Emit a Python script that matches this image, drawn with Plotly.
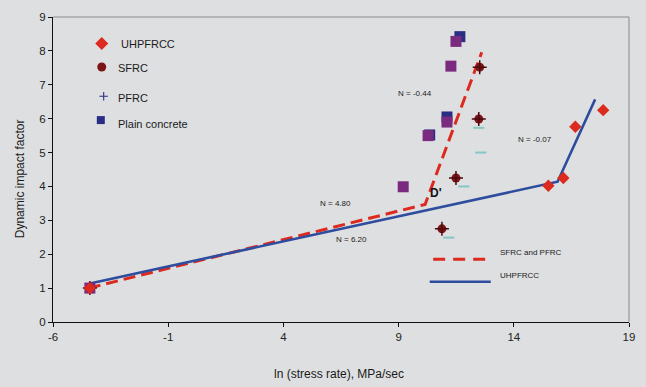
import plotly.graph_objects as go

# ---------------- data ----------------
uhp_x = [-4.4, 15.5, 16.15, 16.67, 17.88]
uhp_y = [1.0, 4.02, 4.25, 5.76, 6.25]

sfrc_x = [-4.4, 10.88, 11.49, 12.48, 12.52]
sfrc_y = [1.0, 2.75, 4.25, 5.99, 7.52]

pfrc_x = [11.18, 11.83, 12.57, 12.48]
pfrc_y = [2.49, 4.0, 5.0, 5.73]

plain_a_x = [11.66, 11.1, 10.35]
plain_a_y = [8.42, 6.05, 5.52]

plain_b_x = [-4.4, 9.2, 10.28, 11.1, 11.27, 11.49]
plain_b_y = [1.0, 3.99, 5.5, 5.9, 7.55, 8.28]

fit_sfrc_x = [-4.45, 10.15, 12.61]
fit_sfrc_y = [1.0, 3.47, 7.96]

fit_uhp_x = [-4.45, 15.9, 17.53]
fit_uhp_y = [1.13, 4.14, 6.57]

x_ticks = [-6, -1, 4, 9, 14, 19]
x_labels = ["-6", "-1", "4", "9", "14", "19"]
y_ticks = list(range(0, 10))

notes = [("N = -0.44", 9.72, 6.74), ("N = 4.80", 6.26, 3.5),
         ("N = 6.20", 6.95, 2.43), ("N = -0.07", 14.94, 5.38)]

RED = "#dc2a1e"
BLUE = "#2f4d9e"
SF = "#7d1518"
NAVY = "#2a2d84"
PURPLE = "#7b2b7f"
TEAL = "#86c6c4"
BG = "#dedfe1"
FONT = "Liberation Sans, Arial, sans-serif"

fig = go.Figure()

fig.add_trace(go.Scatter(x=fit_sfrc_x, y=fit_sfrc_y, mode="lines",
                         line=dict(color=RED, width=3, dash="12px,6px"), showlegend=False))
fig.add_trace(go.Scatter(x=fit_uhp_x, y=fit_uhp_y, mode="lines",
                         line=dict(color=BLUE, width=2.6), showlegend=False))

fig.add_trace(go.Scatter(x=plain_a_x, y=plain_a_y, mode="markers",
                         marker=dict(symbol="square", size=11, color=NAVY), showlegend=False))
fig.add_trace(go.Scatter(x=plain_b_x, y=plain_b_y, mode="markers",
                         marker=dict(symbol="square", size=11, color=PURPLE), showlegend=False))
fig.add_trace(go.Scatter(x=pfrc_x, y=pfrc_y, mode="markers",
                         marker=dict(symbol="line-ew", size=8, line=dict(color=TEAL, width=2)),
                         showlegend=False))
fig.add_trace(go.Scatter(x=sfrc_x, y=sfrc_y, mode="markers",
                         marker=dict(symbol="circle", size=9, color=SF), showlegend=False))
fig.add_trace(go.Scatter(x=sfrc_x, y=sfrc_y, mode="markers",
                         marker=dict(symbol="cross-thin", size=10, line=dict(color="#4a0a0c", width=1.5)),
                         showlegend=False))
fig.add_trace(go.Scatter(x=uhp_x, y=uhp_y, mode="markers",
                         marker=dict(symbol="diamond", size=9.5, color=RED), showlegend=False))

# legend keys on an overlay axis (paper-like 0..1)
leg_x = [0.0846, 0.0846, 0.088, 0.083]
leg_y = [0.913, 0.836, 0.740, 0.662]
leg_sym = ["diamond", "circle", "cross-thin", "square"]
leg_col = [RED, SF, NAVY, NAVY]
leg_size = [10, 9, 6, 8]
for lx, ly, s, c, sz in zip(leg_x, leg_y, leg_sym, leg_col, leg_size):
    mk = dict(symbol=s, size=sz, color=c)
    if s == "cross-thin":
        mk["line"] = dict(color=c, width=1.1)
    fig.add_trace(go.Scatter(x=[lx], y=[ly], mode="markers", marker=mk,
                             xaxis="x2", yaxis="y2", showlegend=False, hoverinfo="skip"))

leg_names = ["UHPFRCC", "SFRC", "PFRC", "Plain concrete"]
leg_tx = [0.114, 0.109, 0.110, 0.109]
leg_ty = [0.913, 0.833, 0.736, 0.650]
annotations = []
for name, tx, ty in zip(leg_names, leg_tx, leg_ty):
    annotations.append(dict(x=tx, y=ty, xref="paper", yref="paper", text=name, showarrow=False,
                            xanchor="left", yanchor="middle", font=dict(family=FONT, size=11, color="#1a1a1a")))

for t, nx, ny in notes:
    annotations.append(dict(x=nx, y=ny, text=t, showarrow=False,
                            font=dict(family=FONT, size=8, color="#222")))
annotations.append(dict(x=10.62, y=3.82, text="<b>D'</b>", showarrow=False,
                        font=dict(family=FONT, size=12, color="#111")))

annotations.append(dict(x=0.772, y=0.206, xref="paper", yref="paper", text="SFRC and PFRC",
                        showarrow=False, xanchor="left", font=dict(family=FONT, size=8, color="#222")))
annotations.append(dict(x=0.772, y=0.132, xref="paper", yref="paper", text="UHPFRCC",
                        showarrow=False, xanchor="left", font=dict(family=FONT, size=8, color="#222")))

annotations.append(dict(x=-0.058, y=0.47, xref="paper", yref="paper", text="Dynamic impact factor",
                        textangle=-90, showarrow=False, xanchor="center", yanchor="middle",
                        font=dict(family=FONT, size=12, color="#1a1a1a")))
annotations.append(dict(x=0.496, y=-0.17, xref="paper", yref="paper", text="ln (stress rate), MPa/sec",
                        showarrow=False, xanchor="center", yanchor="middle",
                        font=dict(family=FONT, size=12, color="#1a1a1a")))

shapes = [
    dict(type="line", xref="paper", yref="paper", x0=0, x1=1, y0=1, y1=1,
         line=dict(color="#8a8a8a", width=1)),
    dict(type="line", xref="paper", yref="paper", x0=1, x1=1, y0=0, y1=1,
         line=dict(color="#8a8a8a", width=1)),
    dict(type="line", xref="paper", yref="paper", x0=0.66, x1=0.763, y0=0.206, y1=0.206,
         line=dict(color=RED, width=3, dash="12px,8px")),
    dict(type="line", xref="paper", yref="paper", x0=0.654, x1=0.76, y0=0.132, y1=0.132,
         line=dict(color=BLUE, width=2.6)),
]

fig.update_layout(
    width=646, height=387,
    margin=dict(l=53, r=14, t=11, b=65),
    paper_bgcolor=BG, plot_bgcolor=BG,
    font=dict(family=FONT, size=11, color="#222"),
    showlegend=False,
    xaxis=dict(range=[-6, 19], tickvals=x_ticks, ticktext=x_labels, showgrid=False, zeroline=False,
               showline=True, linecolor="#111", linewidth=1.3, ticks="outside", ticklen=4,
               tickcolor="#111", tickfont=dict(size=11.5, color="#222")),
    yaxis=dict(range=[0, 9], tickvals=y_ticks, showgrid=False, zeroline=False,
               showline=True, linecolor="#111", linewidth=1.3, ticks="outside", ticklen=4,
               tickcolor="#111", tickfont=dict(size=11.5, color="#222")),
    xaxis2=dict(range=[0, 1], overlaying="x", visible=False),
    yaxis2=dict(range=[0, 1], overlaying="y", visible=False),
    annotations=annotations,
    shapes=shapes,
)

fig.write_html("out.html")
